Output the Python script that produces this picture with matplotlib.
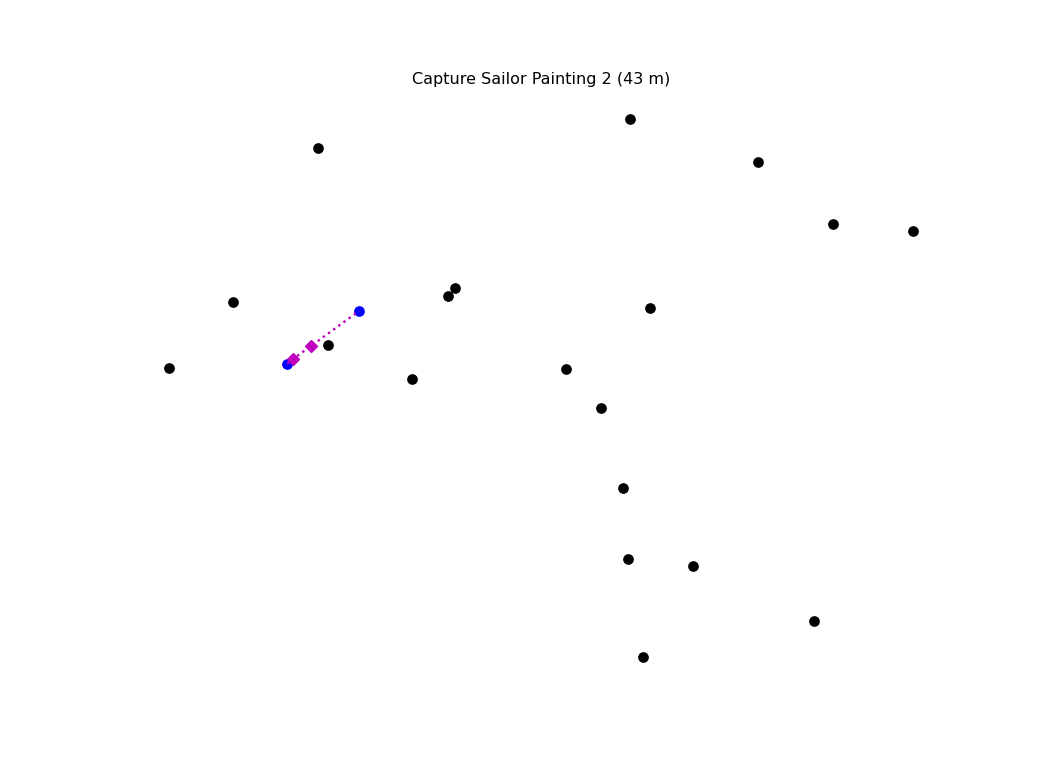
import matplotlib
matplotlib.use("Agg")
import matplotlib.pyplot as plt

# location positions (x, y)
loc_x = [630, 318, 758, 833, 913, 455, 448, 233, 650, 328, 169, 412, 566, 601, 623, 628, 693, 814, 643]
loc_y = [649, 620, 606, 544, 537, 480, 472, 466, 460, 423, 400, 389, 399, 360, 280, 209, 202, 147, 111]

# route endpoints and waypoints
start = (287, 404)
end = (359, 457)
way_x = [293, 311]
way_y = [409, 422]

title = "Capture Sailor Painting 2 (43 m)"

fig, ax = plt.subplots(figsize=(11, 8), dpi=96)

ax.plot(loc_x, loc_y, "ko", markersize=7, linestyle="none")
ax.plot([start[0], end[0]], [start[1], end[1]], "bo", markersize=7, linestyle="none")
ax.plot([start[0]] + way_x + [end[0]], [start[1]] + way_y + [end[1]],
        color="m", linestyle=":", linewidth=1.8)
ax.plot(way_x, way_y, "mD", markersize=6.5, linestyle="none")

ax.set_title(title)
ax.axis("off")

fig.savefig("out.png")
